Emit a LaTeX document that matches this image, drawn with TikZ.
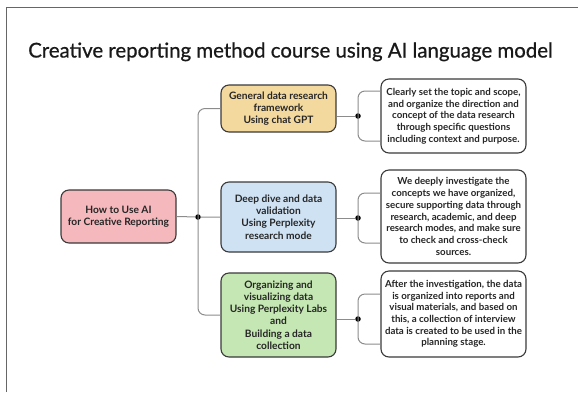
\documentclass[tikz,border=0pt]{standalone}
\usepackage{fontspec}
\setmainfont{Lato}
\newfontfamily\headfont[FakeBold=0.8]{Lato}
\usepackage{tikz}
\usetikzlibrary{arrows.meta, positioning, calc}

\definecolor{rootpink}{HTML}{F5B8BD}
\definecolor{stepyellow}{HTML}{F4D99F}
\definecolor{stepblue}{HTML}{CFE2F4}
\definecolor{stepgreen}{HTML}{C5E7B3}
\definecolor{edgegray}{HTML}{3A3A3A}
\definecolor{linkgray}{HTML}{8C8C8C}

\tikzset{
  stagebox/.style={
    rectangle, rounded corners=8pt,
    minimum width=115pt, minimum height=#1,
    align=center, font=\fontsize{10.2}{12.3}\selectfont\bfseries,
    draw=edgegray, line width=1.1pt, text=black!85
  },
  notebox/.style={
    rectangle, rounded corners=8pt,
    minimum width=145pt, minimum height=#1,
    align=center, font=\fontsize{9.7}{11.7}\selectfont\bfseries,
    draw=edgegray, line width=1.1pt, fill=white, text=black!85
  },
  link/.style={draw=linkgray, line width=1pt, rounded corners=7pt},
  joint/.style={circle, fill=black, inner sep=0pt, minimum size=5.5pt},
}

\begin{document}
\begin{tikzpicture}[x=1pt, y=-1pt]
    \useasboundingbox (0,0) rectangle (578,392);
    % open frame, top and left edges only
    \draw[draw=black!60, line width=1pt] (6,392) -- (6,7) -- (578,7);

    \node[anchor=base, font=\headfont\fontsize{20.4}{24}\selectfont, text=black!90] (title) at (290.5,57.5)
         {Creative reporting method course using AI language model};

    \node[stagebox=53pt, fill=rootpink] (root) at (118.5,216.5)
         {How to Use AI\\for Creative Reporting};

    \node[stagebox=47pt, fill=stepyellow] (plan) at (278.5,108.5)
         {General data research\\framework\\Using chat GPT};
    \node[stagebox=70pt, fill=stepblue] (probe) at (278.5,217)
         {Deep dive and data\\validation\\Using Perplexity\\research mode};
    \node[stagebox=84pt, fill=stepgreen] (build) at (278.5,315)
         {Organizing and\\visualizing data\\Using Perplexity Labs\\and\\Building a data\\collection};

    \node[notebox=74pt] (noteA) at (453.5,116)
         {Clearly set the topic and scope,\\and organize the direction and\\concept of the data research\\through specific questions\\including context and purpose.};
    \node[notebox=93pt] (noteB) at (453.5,216.5)
         {We deeply investigate the\\concepts we have organized,\\secure supporting data through\\research, academic, and deep\\research modes, and make sure\\to check and cross-check\\sources.};
    \node[notebox=86pt] (noteC) at (453.5,314)
         {After the investigation, the data\\is organized into reports and\\visual materials, and based on\\this, a collection of interview\\data is created to be used in the\\planning stage.};

    % trunk from the root to the three stages
    \node[joint] (hub) at (198,217) {};
    \draw[link] (plan.west) -- (198,108.5) -- (198,315) -- (build.west);
    \draw[link] (root.east) -- (hub) -- (probe.west);

    % each stage opens onto its note
    \node[joint] (jA) at (358,116) {};
    \node[joint] (jB) at (358,218) {};
    \node[joint] (jC) at (358,319) {};
    \foreach \s/\j/\n in {plan/jA/noteA, probe/jB/noteB, build/jC/noteC} {
      \draw[link] (\s.east |- \j) -- (\j);
      \draw[link] (\n.west |- {$(\j)+(0,-25)$}) -- ($(\j)+(0,-25)$)
                  -- ($(\j)+(0,25)$) -- (\n.west |- {$(\j)+(0,25)$});
    }
\end{tikzpicture}
\end{document}
